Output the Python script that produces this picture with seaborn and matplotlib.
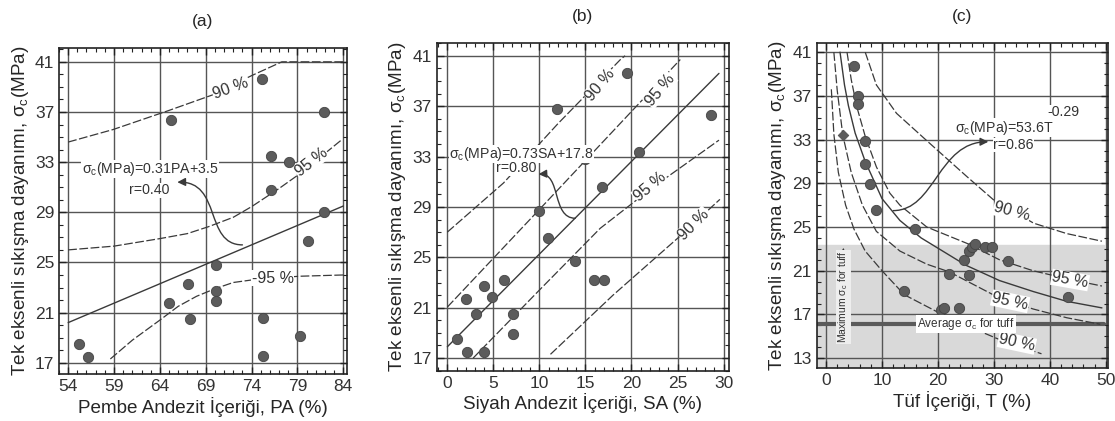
import numpy as np
import pandas as pd
import matplotlib
matplotlib.use("Agg")
import matplotlib.pyplot as plt
from matplotlib.path import Path
from matplotlib.patches import FancyArrowPatch
from matplotlib.ticker import MultipleLocator
import seaborn as sns

# ── data ─────────────────────────────────────────────────
# (a) pink andesite content
pa_x = [55.2, 56.2, 65.2, 75.1, 81.9, 76.1, 78.1, 76.1, 81.9, 80.2, 70.1,
        67.1, 65.0, 70.1, 70.1, 67.3, 75.2, 79.3, 75.2]
pa_y = [18.5, 17.45, 36.4, 39.6, 37.0, 33.5, 33.0, 30.8, 29.05, 26.7, 24.8,
        23.3, 21.8, 22.7, 21.9, 20.5, 20.6, 19.1, 17.55]
pa_fit_x = [54.0, 84.0]
pa_fit_y = [20.2, 29.5]
pa_u90_x = [54.0, 58.9, 64.9, 69.7, 74.0, 77.3, 84.0]
pa_u90_y = [34.6, 35.6, 37.1, 38.35, 39.9, 41.0, 41.0]
pa_u95_x = [54.0, 59.0, 64.0, 67.0, 69.3, 72.0, 74.0, 77.0, 79.5, 81.5, 83.85]
pa_u95_y = [26.0, 26.3, 26.9, 27.3, 27.85, 28.6, 29.45, 30.9, 32.2, 33.4, 34.8]
pa_l95_x = [58.6, 61.0, 64.0, 66.0, 68.0, 70.0, 72.0, 75.0, 79.3, 84.0]
pa_l95_y = [17.3, 18.8, 20.4, 21.5, 22.3, 22.9, 23.4, 23.7, 23.9, 24.0]

# (b) black andesite content
sa_x = [1.1, 2.0, 2.1, 3.1, 4.0, 4.0, 4.9, 6.2, 7.1, 7.1, 10.0, 10.9, 11.9,
        13.9, 15.0, 15.9, 17.0, 16.8, 19.5, 20.8, 28.6]
sa_y = [18.5, 21.7, 17.45, 20.5, 22.7, 17.45, 21.85, 23.2, 20.5, 18.9, 28.7,
        26.5, 36.8, 24.7, 32.8, 23.2, 23.2, 30.6, 39.6, 33.35, 36.3]
sa_fit_x = [0.0, 29.5]
sa_fit_y = [17.9, 39.6]
sa_u90_x = [0.0, 6.1, 12.0, 18.8, 19.3]
sa_u90_y = [27.0, 30.9, 35.6, 40.7, 41.0]
sa_u95_x = [0.0, 10.0, 25.3]
sa_u95_y = [21.05, 28.8, 40.7]
sa_l95_x = [2.8, 10.0, 16.6, 22.4, 29.5]
sa_l95_y = [17.0, 22.4, 27.3, 30.6, 34.3]
sa_l90_x = [11.2, 18.0, 25.3, 29.6]
sa_l90_y = [17.3, 22.0, 26.7, 29.6]

# (c) tuff content
t_x = [5.0, 5.8, 5.8, 7.0, 7.0, 7.9, 8.9, 15.9, 13.9, 20.6, 21.1, 23.8, 21.9,
       24.6, 25.6, 25.5, 26.0, 26.7, 28.4, 29.7, 32.5, 43.3]
t_y = [39.7, 37.0, 36.3, 32.9, 30.75, 28.9, 26.55, 24.8, 19.1, 17.4, 17.6,
       17.6, 20.7, 22.0, 20.6, 22.8, 23.2, 23.4, 23.2, 23.2, 21.9, 18.6]
t_diam_x = [3.1]
t_diam_y = [33.45]
t_fit_x = [2.5, 3.3, 4.0, 5.2, 7.0, 10.0, 13.2, 17.0, 25.0, 31.0, 37.0, 43.0, 49.3]
t_fit_y = [41.0, 38.0, 36.1, 33.6, 31.0, 27.6, 25.6, 24.0, 21.5, 20.1, 19.1, 18.2, 17.6]
t_l90_x = [0.95, 1.4, 2.2, 3.5, 5.0, 7.0, 10.0, 14.0, 20.0, 25.0, 31.0, 38.5]
t_l90_y = [37.6, 33.5, 30.0, 27.0, 24.8, 22.8, 21.0, 18.8, 17.2, 16.0, 14.7, 13.4]
t_l95_x = [1.4, 2.0, 3.0, 4.5, 6.5, 9.0, 13.2, 18.0, 22.0, 31.0, 37.0, 43.0, 49.0]
t_l95_y = [41.0, 37.5, 33.4, 30.0, 27.0, 24.6, 22.8, 21.6, 20.9, 18.5, 17.5, 16.7, 16.1]
t_u95_x = [3.75, 4.5, 5.5, 7.0, 9.0, 11.4, 13.2, 18.0, 25.2, 31.0, 37.0, 43.6, 49.3]
t_u95_y = [41.0, 38.5, 36.0, 33.3, 30.5, 28.1, 27.0, 25.0, 23.5, 22.0, 21.0, 20.2, 19.6]
t_u90_x = [7.0, 9.0, 12.6, 18.0, 25.2, 29.9, 37.1, 43.0, 49.3]
t_u90_y = [41.0, 38.0, 35.4, 32.9, 29.6, 27.5, 25.35, 24.4, 23.7]
tuff_max = 23.35
tuff_avg = 16.1

YLABEL = "Tek eksenli sıkışma dayanımı, σ$_c$(MPa)"

sns.set_theme(style="ticks")
plt.rcParams["font.family"] = ["Liberation Sans", "DejaVu Sans"]
plt.rcParams["mathtext.fontset"] = "custom"
plt.rcParams["mathtext.rm"] = "Liberation Sans"
plt.rcParams["mathtext.it"] = "Liberation Sans"

INK = "#3a3a3a"
DOT = "#5c5c5c"
band_ls = (0, (7, 2))
NOTE = dict(fontsize=10.2, color="#333333", zorder=6)

fig = plt.figure(figsize=(11.15, 4.21), dpi=100)
axes = [fig.add_axes([0.0529, 0.1116, 0.2583, 0.7743]),
        fig.add_axes([0.3917, 0.1195, 0.2622, 0.7780]),
        fig.add_axes([0.7325, 0.1259, 0.2613, 0.7710])]


def frame(ax, xlim, ylim, xt, yt, xminor, yminor, title, xlabel):
    ax.set_xlim(*xlim); ax.set_ylim(*ylim)
    ax.set_xticks(xt); ax.set_yticks(yt)
    ax.xaxis.set_minor_locator(MultipleLocator(xminor))
    ax.yaxis.set_minor_locator(MultipleLocator(yminor))
    ax.tick_params(which="both", direction="in", top=True, right=True,
                   labelsize=12.5, labelcolor="#333333", color="#222222")
    ax.tick_params(which="major", length=5, width=1)
    ax.tick_params(which="minor", length=3, width=0.8)
    ax.grid(which="major", color="#555555", lw=1.0)
    ax.set_axisbelow(True)
    for s in ax.spines.values():
        s.set_color("#222222"); s.set_linewidth(1.2)
    ax.set_title(title, fontsize=12.5, pad=16)
    ax.set_xlabel(xlabel, fontsize=13.6, labelpad=2)
    ax.set_ylabel(YLABEL, fontsize=13.6, labelpad=3)


def curve(ax, xs, ys, ls=band_ls, lw=0.9):
    sns.lineplot(x=xs, y=ys, ax=ax, estimator=None, sort=False,
                 color=INK, lw=lw, linestyle=ls, zorder=3)


def dots(ax, xs, ys):
    sns.scatterplot(x=xs, y=ys, ax=ax, s=55, color=DOT, edgecolor="#444444",
                    linewidth=0.6, zorder=5)


def s_arrow(ax, pts):
    p = Path(pts, [Path.MOVETO, Path.CURVE4, Path.CURVE4, Path.CURVE4])
    ax.add_patch(FancyArrowPatch(path=p, arrowstyle="-|>", mutation_scale=12,
                                 color=INK, lw=1.0, zorder=6))


def lab(ax, x, y, s, rot, fs=11.5):
    ax.text(x, y, s, rotation=rot, ha="center", va="center", fontsize=fs,
            color="#333333", zorder=4,
            bbox=dict(fc="white", ec="none", pad=0.5))


def note(ax, x, y, s, ha="left"):
    ax.text(x, y, s, ha=ha, va="center", **NOTE,
            bbox=dict(fc="white", ec="none", pad=0.3))


# ── (a) ──────────────────────────────────────────────────
ax = axes[0]
frame(ax, (53.0, 84.4), (16.1, 42.1), [54, 59, 64, 69, 74, 79, 84],
      range(17, 42, 4), 1, 1, "(a)", "Pembe Andezit İçeriği, PA (%)")
curve(ax, pa_fit_x, pa_fit_y, ls="-", lw=1.0)
curve(ax, pa_u90_x, pa_u90_y)
curve(ax, pa_u95_x, pa_u95_y)
curve(ax, pa_l95_x, pa_l95_y)
dots(ax, pa_x, pa_y)
lab(ax, 71.7, 38.9, "90 %", 20)
lab(ax, 80.5, 33.0, "95 %", 38)
lab(ax, 76.3, 23.75, "-95 %", 0)
note(ax, 55.5, 32.45, "σ$_c$(MPa)=0.31PA+3.5")
note(ax, 62.85, 30.75, "r=0.40", ha="center")
s_arrow(ax, [(73.0, 26.4), (68.8, 26.4), (70.8, 31.5), (65.9, 31.4)])

# ── (b) ──────────────────────────────────────────────────
ax = axes[1]
frame(ax, (-1.15, 30.6), (16.0, 42.0), range(0, 31, 5),
      range(17, 42, 4), 1, 1, "(b)", "Siyah Andezit İçeriği, SA (%)")
curve(ax, sa_fit_x, sa_fit_y, ls="-", lw=1.0)
curve(ax, sa_u90_x, sa_u90_y)
curve(ax, sa_u95_x, sa_u95_y)
curve(ax, sa_l95_x, sa_l95_y)
curve(ax, sa_l90_x, sa_l90_y)
dots(ax, sa_x, sa_y)
lab(ax, 16.6, 38.7, "90 %", 50)
lab(ax, 23.1, 38.3, "95 %", 50)
lab(ax, 22.0, 30.6, "95 %", 40)
lab(ax, 26.8, 27.6, "90 %", 45)
note(ax, 0.2, 33.2, "σ$_c$(MPa)=0.73SA+17.8")
note(ax, 7.5, 32.05, "r=0.80", ha="center")
s_arrow(ax, [(13.9, 28.1), (11.3, 28.1), (12.4, 31.7), (9.9, 31.6)])

# ── (c) ──────────────────────────────────────────────────
ax = axes[2]
frame(ax, (-1.66, 50.4), (12.1, 41.8), range(0, 51, 10),
      range(13, 42, 4), 2, 1, "(c)", "Tüf İçeriği, T (%)")
ax.axhspan(12.1, tuff_max, xmin=0.0, xmax=0.985, color="#d9d9d9", zorder=0.5)
ax.axhline(tuff_avg, xmin=0.0, xmax=0.985, color="#5a5a5a", lw=3, zorder=2)
curve(ax, t_fit_x, t_fit_y, ls="-", lw=1.0)
curve(ax, t_l90_x, t_l90_y)
curve(ax, t_l95_x, t_l95_y)
curve(ax, t_u95_x, t_u95_y)
curve(ax, t_u90_x, t_u90_y)
dots(ax, t_x, t_y)
sns.scatterplot(x=t_diam_x, y=t_diam_y, ax=ax, marker="D", s=30, color=DOT,
                edgecolor="#444444", zorder=5)
lab(ax, 33.2, 26.4, "90 %", -15)
lab(ax, 43.6, 20.15, "95 %", -10)
lab(ax, 32.9, 18.2, "95 %", -12)
lab(ax, 34.1, 14.4, "90 %", -12)
ax.text(25.0, tuff_avg, "Average σ$_c$ for tuff", fontsize=8.5, color="#333333",
        ha="center", va="center", zorder=6,
        bbox=dict(fc="white", ec="none", pad=0.8))
ax.annotate("", xy=(3.1, tuff_max), xytext=(3.1, 14.2),
            arrowprops=dict(arrowstyle="-|>", color=INK, lw=0.8), zorder=4)
ax.text(3.1, 18.6, "Maximum σ$_c$ for tuff", rotation=90, fontsize=7.5,
        color="#333333", ha="center", va="center", zorder=6,
        bbox=dict(fc="#eeeeee", ec="none", pad=0.5))
note(ax, 23.0, 34.1, "σ$_c$(MPa)=53.6T")
note(ax, 39.6, 35.5, "-0.29")
note(ax, 33.5, 32.5, "r=0.86", ha="center")
s_arrow(ax, [(12.0, 26.5), (19.5, 26.5), (20.0, 32.8), (29.0, 32.8)])

plt.savefig("out.png", dpi=100)
plt.close()
